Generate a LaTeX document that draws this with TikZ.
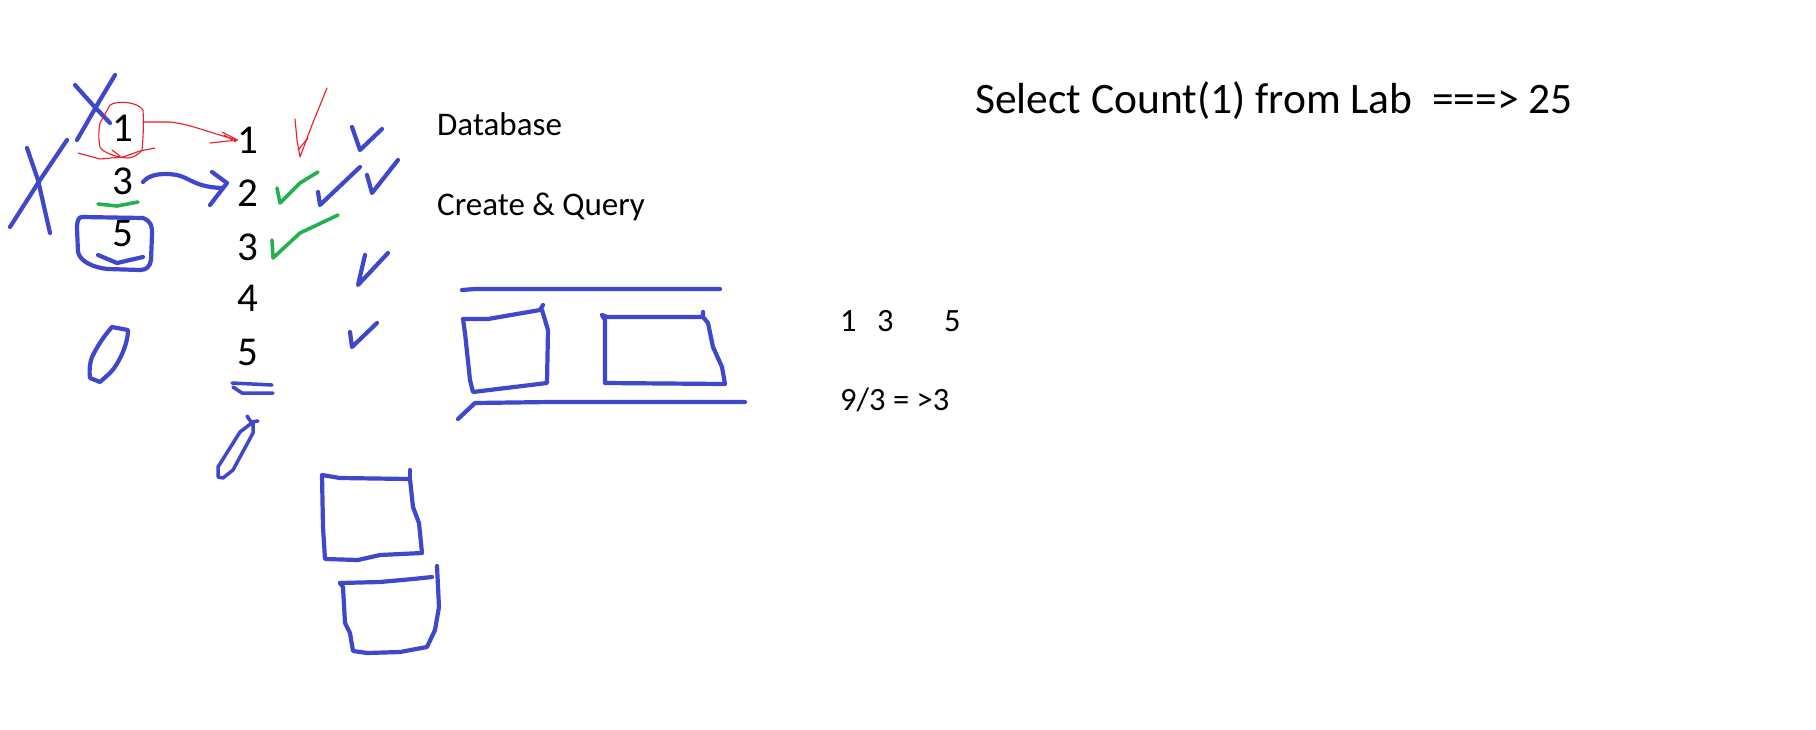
\documentclass[tikz,border=0pt]{standalone}
\usepackage{fontspec}
\setmainfont{Carlito}
\definecolor{penblue}{RGB}{63,72,204}
\definecolor{pengreen}{RGB}{34,177,76}
\definecolor{penred}{RGB}{237,28,36}
\begin{document}
\begin{tikzpicture}[x=1pt,y=-1pt,
  bl/.style={draw=penblue,line width=4.2pt,line cap=round,line join=round},
  gr/.style={draw=pengreen,line width=3.6pt,line cap=round,line join=round},
  rd/.style={draw=penred,line width=1.1pt,line cap=round,line join=round},
  num/.style={font=\fontsize{41}{44}\selectfont,inner sep=0pt},
  lbl/.style={font=\fontsize{33}{38}\selectfont,inner sep=0pt,anchor=base west},
  sml/.style={font=\fontsize{32.5}{36}\selectfont,inner sep=0pt,anchor=base west},
  big/.style={font=\fontsize{43.5}{48}\selectfont,inner sep=0pt,anchor=base west}]
\useasboundingbox (0,0) rectangle (1816,729);
\fill[white] (0,0) rectangle (1816,729);
% left column
\node[num] (l1) at (123,128) {1};
\node[num] (l3) at (123,181) {3};
\node[num] (l5) at (123,233) {5};
% middle column
\node[num] (m1) at (248,140) {1};
\node[num] (m2) at (248,193) {2};
\node[num] (m3) at (248,247) {3};
\node[num] (m4) at (248,298) {4};
\node[num] (m5) at (248,352) {5};
% labels
\node[lbl] (db) at (437,135) {Database};
\node[lbl] (cq) at (437,215) {Create \& Query};
\node[big] (sel) at (975,113) {Select Count(1) from Lab\ \ ===> 25};
\node[sml] (a1) at (840,331) {1};
\node[sml] (a3) at (877,331) {3};
\node[sml] (a5) at (944,331) {5};
\node[sml] (avg) at (840,410) {9/3 = >3};
% blue X marks
\draw[bl] (75,85) -- (92,104) -- (110,123);
\draw[bl] (115,75) -- (100,100) -- (77,140);
\draw[bl] (27,148) -- (38,180) -- (50,233);
\draw[bl] (67,140) -- (40,180) -- (10,227);
% red circle and arrow
\draw[rd] (110,105) .. controls (118,100) and (138,102) .. (143,110)
  .. controls (144,125) and (143,140) .. (142,150)
  .. controls (137,156) and (132,158) .. (127,158)
  .. controls (115,157) and (102,152) .. (100,147)
  .. controls (98,138) and (99,128) .. (100,123) -- (110,105);
\draw[rd] (78,153) -- (100,159) -- (123,157) -- (140,151) -- (155,148);
\draw[rd] (112,150) -- (120,156);
\coordinate (ra) at (143,122);
\draw[rd] (ra) -- (170,122) .. controls (190,124) and (210,133) .. (m1.west);
\draw[rd] (222,132) -- (m1.west) -- (210,143);
\draw[rd] (224,135) -- (236,142);
% red check
\draw[rd] (295,119) -- (297,140) -- (300,157) -- (312,125) -- (327,88);
\draw[rd] (298,150) -- (308,138);
% blue arrow 3 -> 2
\coordinate (ba) at (143,182);
\draw[bl] (ba) .. controls (148,176) and (158,172) .. (177,175)
  .. controls (190,178) and (195,187) .. (222,188);
\draw[bl] (212,172) -- (227,183) -- (210,205);
% green underline
\draw[gr] (98,204) -- (117,206) -- (138,202);
% blue box around 5
\draw[bl] (82,217) -- (143,218) .. controls (152,222) and (152,226) .. (152,235)
  -- (151,260) .. controls (150,267) and (146,270) .. (140,270)
  -- (108,269) .. controls (95,268) and (80,262) .. (78,252)
  -- (77,228) .. controls (77,220) and (79,217) .. (82,217);
\draw[bl] (98,255) -- (117,263) -- (143,257);
% oval 1
\draw[bl] (112,327) -- (128,330) .. controls (128,345) and (118,365) .. (110,373)
  -- (100,382) -- (90,378) .. controls (89,370) and (90,362) .. (92,357)
  .. controls (98,345) and (104,336) .. (112,327);
% green checks
\draw[gr] (318,172) -- (300,183) -- (280,203) -- (277,188);
\draw[gr] (338,215) -- (300,233) -- (273,258) -- (272,240);
% blue checks
\draw[bl] (352,127) -- (360,150) -- (382,129);
\draw[bl] (318,192) -- (320,205) -- (360,167);
\draw[bl] (367,175) -- (372,193) -- (398,160);
\draw[bl] (365,255) -- (358,285) -- (388,253);
\draw[bl] (350,332) -- (352,347) -- (377,323);
% double underline middle 5
\draw[bl,line width=3.5pt] (232,383) -- (272,385);
\draw[bl,line width=3.5pt] (233,387) -- (242,393) -- (273,393);
% oval 2
\draw[bl,line width=3.5pt] (253,422) -- (253,433) -- (233,470) -- (223,478) -- (218,477)
  -- (218,467) -- (240,432) -- (253,422);
\draw[bl,line width=3.5pt] (247,416) -- (251,422) -- (258,421);
% box A
\draw[bl] (322,475) -- (340,478) -- (410,479) -- (413,507) -- (419,523) -- (422,553)
  -- (380,555) -- (358,560) -- (325,559) -- (323,527) -- cycle;
\draw[bl] (410,470) -- (410,480);
% box B
\draw[bl] (340,583) -- (380,582) -- (413,579) -- (432,577);
\draw[bl] (437,566) -- (439,607) -- (435,630) -- (427,647) -- (400,652) -- (367,653)
  -- (353,651) -- (350,633) -- (345,623) -- (343,587) -- (340,583);
% top horizontal line
\draw[bl] (462,290) -- (475,289) -- (720,289);
% box C
\draw[bl] (463,319) -- (488,319) -- (540,310) -- (543,305);
\draw[bl] (542,310) -- (548,330) -- (547,383) -- (473,392) -- (470,380) -- (465,333) -- (463,319);
% box D
\draw[bl] (602,315) -- (607,317) -- (703,317) -- (703,312);
\draw[bl] (703,317) -- (708,323) -- (713,347) -- (722,367) -- (725,384) -- (605,383)
  -- (605,320) -- (602,315);
% bottom line
\draw[bl] (458,419) -- (475,403) -- (550,402) -- (745,402);
\end{tikzpicture}
\end{document}
